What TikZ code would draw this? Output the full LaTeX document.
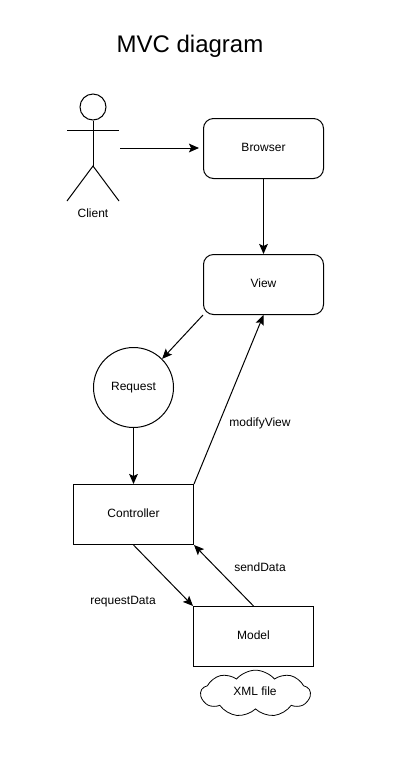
\documentclass[tikz,border=0pt]{standalone}
\usepackage{fontspec}
\setmainfont{Liberation Sans}
\usetikzlibrary{arrows.meta, shapes.symbols}

\tikzset{
  conn/.style={draw, line width=0.75pt, -{Stealth[length=7.5pt, width=6.5pt, inset=1.5pt]}},
  label9/.style={font=\fontsize{9}{11}\selectfont, text height=6.5pt, text depth=2pt},
  roundbox/.style={draw, line width=0.75pt, rounded corners=7.5pt, minimum width=90pt, minimum height=45pt, inner sep=0pt, label9},
  plainbox/.style={draw, line width=0.75pt, minimum width=90pt, minimum height=45pt, inner sep=0pt, label9},
  txt/.style={inner sep=0pt, label9},
}

\begin{document}
\begin{tikzpicture}[x=0.75pt, y=-0.75pt]
  \useasboundingbox (0,0) rectangle (401,769);

  % Title
  \node[inner sep=0pt, font=\fontsize{18}{22}\selectfont] (title) at (190,46) {MVC diagram};

  % Define the actor points
  \coordinate (armL) at (67,130);
  \coordinate (armR) at (119,130);
  \coordinate (hip) at (93,166);
  \coordinate (legL) at (67,201);
  \coordinate (legR) at (119,201);
  \coordinate (clientOut) at (120,148);

  % Draw the actor
  \node[draw, circle, line width=0.75pt, minimum size=19.5pt, inner sep=0pt] (head) at (93,107) {};
  \draw[line width=0.75pt] (head.south) -- (hip);
  \draw[line width=0.75pt] (armL) -- (armR);
  \draw[line width=0.75pt] (legL) -- (hip) -- (legR);
  \node[txt] (client) at (93,214) {Client};

  % Draw the boxes
  \node[roundbox] (browser) at (263.5,148.5) {Browser};
  \node[roundbox] (view) at (263.5,284.5) {View};
  \node[draw, circle, line width=0.75pt, minimum size=60pt, inner sep=0pt, label9] (request) at (133.5,387.5) {Request};
  \node[plainbox] (controller) at (133.5,514.5) {Controller};
  \node[plainbox] (model) at (253.5,636.5) {Model};
  \node[cloud, draw, cloud puffs=9, cloud puff arc=100, aspect=2.4, line width=0.6pt, minimum width=82pt, minimum height=35pt, inner sep=0pt] (xml) at (255.5,693.5) {};
  \node[txt] (xmlText) at (255,692) {XML file};

  % Draw the connectors
  \draw[conn, shorten >=3pt] (clientOut) -- (browser.west |- clientOut);
  \draw[conn] (browser.south) -- (view.north);
  \draw[conn] (view.south west) -- (request.north east);
  \draw[conn] (request.south) -- (controller.north);
  \draw[conn] (controller.north east) -- (view.south);
  \draw[conn] (controller.south) -- (model.north west);
  \draw[conn] (model.north) -- (controller.south east);

  % Connector labels
  \node[txt] (modifyLabel) at (260,423) {modifyView};
  \node[txt] (sendLabel) at (260,568) {sendData};
  \node[txt] (requestLabel) at (123,601) {requestData};
\end{tikzpicture}
\end{document}
